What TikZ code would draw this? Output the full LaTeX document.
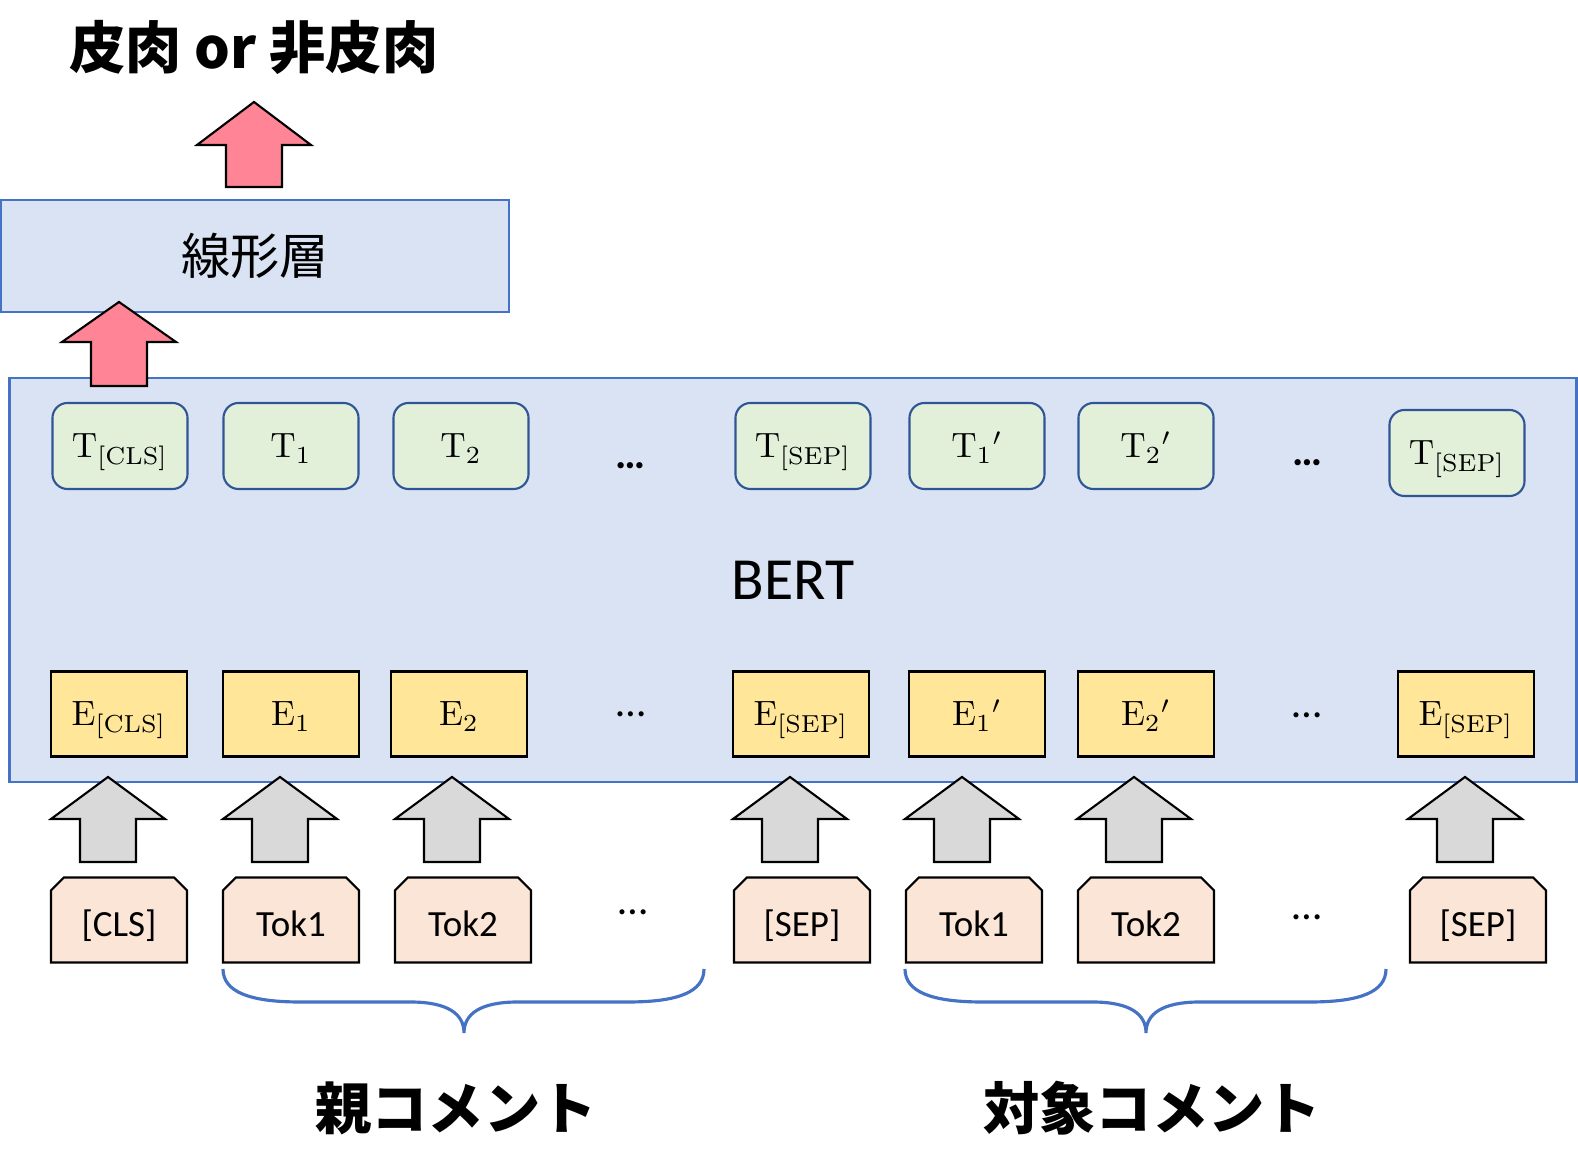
\documentclass[tikz,border=0pt]{standalone}
\usepackage[no-math]{fontspec}
\setmainfont{Carlito}
\newfontfamily\jpfont{Noto Sans CJK JP}
\usetikzlibrary{shapes.misc}

\definecolor{bertfill}{HTML}{DAE3F3}
\definecolor{bertline}{HTML}{4472C4}
\definecolor{tfill}{HTML}{E2F0D9}
\definecolor{tline}{HTML}{2F5597}
\definecolor{efill}{HTML}{FFE699}
\definecolor{tokfill}{HTML}{FBE5D6}
\definecolor{redarr}{HTML}{FF8596}
\definecolor{grayarr}{HTML}{D9D9D9}

\tikzset{
  layerbox/.style={draw=bertline, fill=bertfill, line width=0.6pt},
  tbox/.style={draw=tline, fill=tfill, line width=0.6pt, rounded corners=4.3pt,
    minimum width=1.35cm, minimum height=0.86cm, inner sep=0pt,
    text height=0.24cm, text depth=0cm, font=\fontsize{10}{12}\selectfont},
  ebox/.style={draw=black, fill=efill, line width=0.6pt,
    minimum width=1.36cm, minimum height=0.85cm, inner sep=0pt,
    text height=0.24cm, text depth=0cm, font=\fontsize{10}{12}\selectfont},
  tokbox/.style={chamfered rectangle, chamfered rectangle corners={north west,north east},
    chamfered rectangle xsep=0.065cm, chamfered rectangle ysep=0.065cm,
    draw=black, fill=tokfill, line width=0.6pt,
    minimum width=1.36cm, minimum height=0.85cm, inner sep=0pt,
    text height=0.33cm, text depth=0cm, font=\fontsize{10.5}{12}\selectfont},
  dots/.style={anchor=base, inner sep=0pt, font=\fontsize{12}{14}\selectfont},
  redarrow/.style={draw=black, fill=redarr, line width=0.6pt},
  grayarrow/.style={draw=black, fill=grayarr, line width=0.6pt},
  brace/.style={draw=bertline, line width=0.9pt},
}

\begin{document}
\begin{tikzpicture}[x=0.01cm, y=-0.01cm]
  \useasboundingbox (0,0) rectangle (1578,1174);

  % title and linear layer
  \node (result) at (254,47) {\jpfont\bfseries\fontsize{16}{19}\selectfont 皮肉 or 非皮肉};
  \node[layerbox, minimum width=5.07cm, minimum height=1.12cm] (linear) at (255,256)
    {\jpfont\fontsize{14}{17}\selectfont 線形層};

  % BERT block
  \node[layerbox, minimum width=15.66cm, minimum height=4.03cm,
    font=\fontsize{17}{20}\selectfont] (bert) at (793,580) {BERT};

  % output vectors
  \node[tbox] (tcls) at (120,446) {$\mathrm{T}_{[\mathrm{CLS}]}$};
  \node[tbox] (t1) at (291,446) {$\mathrm{T}_1$};
  \node[tbox] (t2) at (461,446) {$\mathrm{T}_2$};
  \node[dots, font=\fontsize{12}{14}\bfseries] (tdotsa) at (631,469) {…};
  \node[tbox] (tsepa) at (803,446) {$\mathrm{T}_{[\mathrm{SEP}]}$};
  \node[tbox] (t1p) at (977,446) {$\mathrm{T}_1{}'$};
  \node[tbox] (t2p) at (1146,446) {$\mathrm{T}_2{}'$};
  \node[dots, font=\fontsize{12}{14}\bfseries] (tdotsb) at (1307,466) {…};
  \node[tbox] (tsepb) at (1457,453) {$\mathrm{T}_{[\mathrm{SEP}]}$};

  % embeddings
  \node[ebox] (ecls) at (119,714) {$\mathrm{E}_{[\mathrm{CLS}]}$};
  \node[ebox] (e1) at (291,714) {$\mathrm{E}_1$};
  \node[ebox] (e2) at (459,714) {$\mathrm{E}_2$};
  \node[dots] (edotsa) at (631,717) {…};
  \node[ebox] (esepa) at (801,714) {$\mathrm{E}_{[\mathrm{SEP}]}$};
  \node[ebox] (e1p) at (977,714) {$\mathrm{E}_1{}'$};
  \node[ebox] (e2p) at (1146,714) {$\mathrm{E}_2{}'$};
  \node[dots] (edotsb) at (1307,718) {…};
  \node[ebox] (esepb) at (1466,714) {$\mathrm{E}_{[\mathrm{SEP}]}$};

  % input tokens
  \node[tokbox] (tokcls) at (119,920) {[CLS]};
  \node[tokbox] (toka1) at (291,920) {Tok1};
  \node[tokbox] (toka2) at (463,920) {Tok2};
  \node[dots] (tokdotsa) at (633,915) {…};
  \node[tokbox] (toksepa) at (802,920) {[SEP]};
  \node[tokbox] (tokb1) at (974,920) {Tok1};
  \node[tokbox] (tokb2) at (1146,920) {Tok2};
  \node[dots] (tokdotsb) at (1307,920) {…};
  \node[tokbox] (toksepb) at (1478,920) {[SEP]};

  % red block arrows
  \draw[redarrow] (254,102) -- (311,145) -- (282,145) -- (282,187)
    -- (226,187) -- (226,145) -- (197,145) -- cycle;
  \draw[redarrow] (119,302) -- (176,342) -- (147,342) -- (147,386)
    -- (91,386) -- (91,342) -- (62,342) -- cycle;

  % gray block arrows, token -> embedding
  \foreach \x in {108,280,452,790,962,1134,1465}
    \draw[grayarrow] (\x,777) -- (\x+57,819) -- (\x+28,819) -- (\x+28,862)
      -- (\x-28,862) -- (\x-28,819) -- (\x-57,819) -- cycle;

  % braces under the two comments
  \foreach \s in {0,682}
    \draw[brace, shift={(\s,0)}] (223,969) .. controls (223,992) and (250,1002) .. (300,1002)
      -- (410,1002) .. controls (448,1002) and (464,1014) .. (464,1033)
      .. controls (464,1014) and (480,1002) .. (518,1002)
      -- (628,1002) .. controls (678,1002) and (704,992) .. (704,969);

  \node (parent) at (456,1108) {\jpfont\bfseries\fontsize{16}{19}\selectfont 親コメント};
  \node (target) at (1152,1108) {\jpfont\bfseries\fontsize{16}{19}\selectfont 対象コメント};
\end{tikzpicture}
\end{document}
